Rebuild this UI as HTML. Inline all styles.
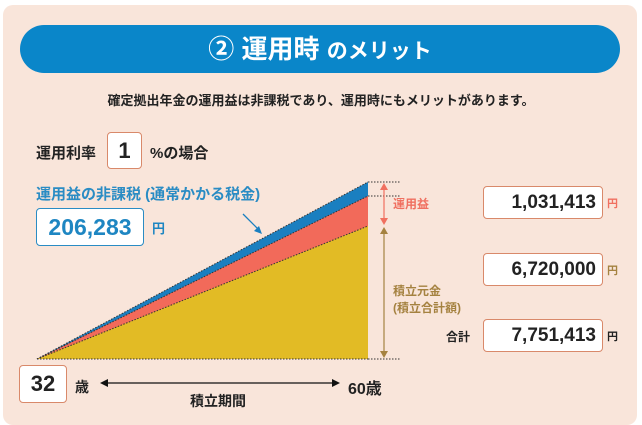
<!DOCTYPE html>
<html><head><meta charset="utf-8"><style>
body{margin:0;width:642px;height:416px;background:#fff;overflow:hidden;font-family:"Liberation Sans","Noto Sans CJK JP",sans-serif;}
#panel{position:absolute;left:3px;top:5px;width:634px;height:420px;background:#f9e5da;border-radius:10px;}
.abs{position:absolute;}
.box{position:absolute;background:#fff;border:1px solid #d9896a;border-radius:4px;box-sizing:border-box;font-weight:bold;color:#222;text-align:right;}
</style></head><body>
<div id="panel"></div>
<div class="abs" style="left:20px;top:25px;width:600px;height:48px;background:#0a86c9;border-radius:24px;color:#fff;text-align:center;line-height:48px;font-weight:bold;font-size:26px;">② 運用時 <span style="font-size:21px">のメリット</span></div>
<div class="abs" style="left:0;width:642px;top:90px;text-align:center;font-size:13px;font-weight:bold;color:#222;">確定拠出年金の運用益は非課税であり、運用時にもメリットがあります。</div>
<div class="abs" style="left:36px;top:142px;font-size:15px;font-weight:bold;color:#222;">運用利率</div>
<div class="box" style="left:107px;top:132px;width:35px;height:37px;text-align:center;font-size:22px;line-height:35px;">1</div>
<div class="abs" style="left:150px;top:142px;font-size:15px;font-weight:bold;color:#222;">%の場合</div>
<div class="abs" style="left:36px;top:183px;font-size:15px;font-weight:bold;color:#2a8cc4;">運用益の非課税 (通常かかる税金)</div>
<div class="box" style="left:36px;top:208px;width:108px;height:38px;border-color:#2a8cc4;color:#1e86c2;text-align:center;font-size:23px;line-height:36px;">206,283</div>
<div class="abs" style="left:152px;top:218px;font-size:13px;font-weight:bold;color:#1e86c2;">円</div>
<svg class="abs" style="left:0;top:0" width="642" height="416">
<g id="g"></g>
</svg>
<div class="abs" style="left:393px;top:195px;font-size:12px;font-weight:bold;color:#f07060;">運用益</div>
<div class="abs" style="left:393px;top:283px;font-size:12px;font-weight:bold;color:#a58240;line-height:17px;">積立元金<br>(積立合計額)</div>
<div class="box" style="left:483px;top:186px;width:120px;height:33px;font-size:19px;line-height:31px;padding-right:6px;">1,031,413</div>
<div class="abs" style="left:607px;top:195px;font-size:11px;font-weight:bold;color:#f07060;">円</div>
<div class="box" style="left:483px;top:253px;width:120px;height:33px;font-size:19px;line-height:31px;padding-right:6px;">6,720,000</div>
<div class="abs" style="left:607px;top:262px;font-size:11px;font-weight:bold;color:#a58240;">円</div>
<div class="abs" style="left:446px;top:328px;font-size:12px;font-weight:bold;color:#222;">合計</div>
<div class="box" style="left:483px;top:319px;width:120px;height:33px;font-size:19px;line-height:31px;padding-right:6px;">7,751,413</div>
<div class="abs" style="left:607px;top:328px;font-size:11px;font-weight:bold;color:#222;">円</div>
<div class="box" style="left:19px;top:365px;width:48px;height:38px;text-align:center;font-size:22px;line-height:36px;">32</div>
<div class="abs" style="left:75px;top:377px;font-size:14px;font-weight:bold;color:#222;">歳</div>
<div class="abs" style="left:348px;top:375px;font-size:16px;font-weight:bold;color:#222;">60歳</div>
<div class="abs" style="left:190px;top:391px;font-size:14px;font-weight:bold;color:#222;">積立期間</div>
<script>
const layers=['principal','gain','tax'];
const values=[6720000,1031413,206283];
const colors=['#e2bb25','#f26a5a','#1a7fc0'];
const pxPerUnit=[133/6720000,30/1031413,14/206283]; // illustrative scale per layer
const x0=37,x1=368,base=359;
const ns='http://www.w3.org/2000/svg',g=document.getElementById('g');
function mk(t,a){const e=document.createElementNS(ns,t);for(const k in a)e.setAttribute(k,a[k]);g.appendChild(e);return e;}
let cum=base;const tops=[base];
values.forEach((v,i)=>{cum-=v*pxPerUnit[i];tops.push(cum);});
for(let i=values.length-1;i>=0;i--){
 const p=mk('polygon',{points:`${x0},${base} ${x1},${tops[i+1]} ${x1},${base}`,fill:colors[i]});
 
 
}
for(let i=0;i<tops.length;i++){
 const l=mk('line',{x1:x0,y1:base,x2:x1,y2:tops[i],stroke:'#333','stroke-width':1,'stroke-dasharray':'1.5,1.5'});
 
 
}
[base,tops[2],tops[3]].forEach(y=>{const l=mk('line',{x1:x1,y1:y,x2:400,y2:y,stroke:'#333','stroke-dasharray':'1.5,1.5'});
 
 });
function varrow(ya,yb,c,n){const l=mk('line',{x1:384,y1:ya+6,x2:384,y2:yb-6,stroke:c,'stroke-width':1.2});
 
 
 mk('polygon',{points:`380,${ya+8} 388,${ya+8} 384,${ya+1}`,fill:c});
 mk('polygon',{points:`380,${yb-8} 388,${yb-8} 384,${yb-1}`,fill:c});}
varrow(tops[3],tops[1],'#f07060','gain-arrow');
varrow(tops[1],base,'#a58240','principal-arrow');
const h=mk('line',{x1:106,y1:383,x2:333,y2:383,stroke:'#111','stroke-width':1.3});


mk('polygon',{points:`100,383 108,379 108,387`,fill:'#111'});
mk('polygon',{points:`340,383 332,379 332,387`,fill:'#111'});
const pa=mk('line',{x1:243,y1:214,x2:259,y2:230,stroke:'#1a7fc0','stroke-width':1.3});


mk('polygon',{points:`262,234 254,231 259,226`,fill:'#1a7fc0'});
</script>
</body></html>
